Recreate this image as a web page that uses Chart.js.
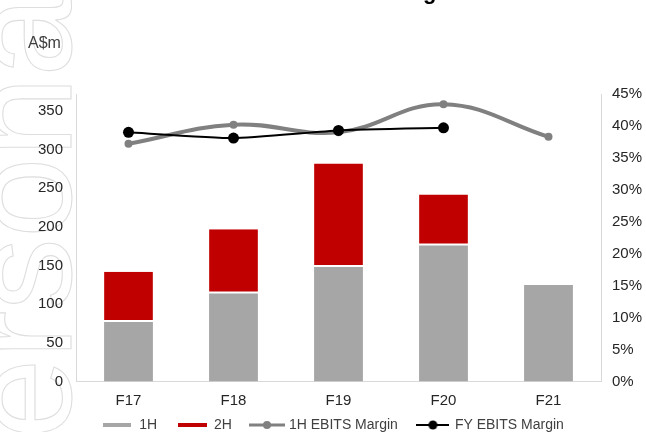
<!DOCTYPE html>
<html>
<head>
<meta charset="utf-8">
<style>
  html, body { margin: 0; padding: 0; background: #fff; }
  #wrap { width: 646px; height: 432px; }
</style>
<script src="https://cdn.jsdelivr.net/npm/chart.js@4/dist/chart.umd.min.js"></script>
</head>
<body>
<div id="wrap"><canvas id="myChart" width="646" height="432"></canvas></div>
<script>
const categories = ['F17', 'F18', 'F19', 'F20', 'F21'];
const firstHalf = [77, 114, 148, 176, 125];     // A$m
const secondHalf = [65, 83, 134, 66, null];      // A$m
const firstHalfMargin = [37.2, 40.2, 39.0, 43.4, 38.3]; // %
const fullYearMargin = [39.0, 38.1, 39.3, 39.7, null];  // %
const amountTicks = [0, 50, 100, 150, 200, 250, 300, 350];

const FONT = 'Arial, "Liberation Sans", sans-serif';
const TEXT = '#404040';
const AXIS = '#d9d9d9';

// little legend symbols: a line, optionally with a dot in the middle
function legendIcon(width, color, lineWidth, dot) {
    const c = document.createElement('canvas');
    c.width = width;
    c.height = 12;
    const g = c.getContext('2d');
    g.strokeStyle = color;
    g.lineWidth = lineWidth;
    g.beginPath();
    g.moveTo(0, 6);
    g.lineTo(width, 6);
    g.stroke();
    if (dot) {
        g.fillStyle = color;
        g.beginPath();
        g.arc(width / 2, 6, dot, 0, Math.PI * 2);
        g.fill();
    }
    return c;
}
const legendIcons = [
    legendIcon(28, '#a6a6a6', 4),
    legendIcon(29, '#c00000', 4),
    legendIcon(36, '#808080', 3, 4),
    legendIcon(33, '#000000', 2, 4.5)
];

const decorations = {
    id: 'decorations',
    beforeLayout(chart) {
        const legend = chart.legend;
        if (legend && !legend._patched) {
            const fit = legend.fit;
            legend.fit = function () {
                fit.call(this);
                this.height = 22;
            };
            legend._patched = true;
        }
    },
    afterLayout(chart) {
        // pull the legend up so it sits just under the category labels
        const legend = chart.legend;
        legend.top = 398;
        legend.bottom = 432;
        legend.height = 34;
    },
    beforeDraw(chart) {
        // faint outlined watermark down the left edge
        const ctx = chart.ctx;
        ctx.save();
        ctx.translate(71, 520);
        ctx.rotate(-Math.PI / 2);
        ctx.font = '145px ' + FONT;
        ctx.strokeStyle = '#dedede';
        ctx.lineWidth = 1.1;
        ctx.textBaseline = 'alphabetic';
        ctx.strokeText('personal use only', 0, 0);
        ctx.restore();
    },
    afterDraw(chart) {
        const ctx = chart.ctx;
        ctx.save();
        // title, almost entirely cut off at the top
        ctx.fillStyle = '#000';
        ctx.font = 'bold 22px ' + FONT;
        ctx.textAlign = 'right';
        ctx.textBaseline = 'alphabetic';
        ctx.fillText('EBITS and EBITS Margin', 456, -1);
        // unit label
        ctx.fillStyle = TEXT;
        ctx.font = '16px ' + FONT;
        ctx.textAlign = 'left';
        ctx.textBaseline = 'middle';
        ctx.fillText('A$m', 28, 44);
        ctx.restore();
    }
};

const ctx = document.getElementById('myChart').getContext('2d');
const myChart = new Chart(ctx, {
    type: 'bar',
    data: {
        labels: categories,
        datasets: [
            {
                label: '1H',
                data: firstHalf,
                backgroundColor: '#a6a6a6',
                borderWidth: 0,
                stack: 'half',
                yAxisID: 'y',
                order: 3,
                barPercentage: 0.465,
                categoryPercentage: 1
            },
            {
                label: '2H',
                data: secondHalf,
                backgroundColor: '#c00000',
                borderColor: '#ffffff',
                borderWidth: { top: 0, left: 0, right: 0, bottom: 2 },
                borderSkipped: false,
                stack: 'half',
                yAxisID: 'y',
                order: 3,
                barPercentage: 0.465,
                categoryPercentage: 1
            },
            {
                type: 'line',
                label: '1H EBITS Margin',
                data: firstHalfMargin,
                yAxisID: 'y1',
                borderColor: '#808080',
                backgroundColor: '#808080',
                borderWidth: 4,
                pointRadius: 4,
                pointBorderWidth: 0,
                tension: 0.4,
                fill: false,
                order: 2
            },
            {
                type: 'line',
                label: 'FY EBITS Margin',
                data: fullYearMargin,
                yAxisID: 'y1',
                borderColor: '#000000',
                backgroundColor: '#000000',
                borderWidth: 2,
                pointRadius: 5.5,
                pointBorderWidth: 0,
                tension: 0.15,
                fill: false,
                order: 1
            }
        ]
    },
    options: {
        responsive: false,
        animation: false,
        layout: { padding: { top: 94, left: 20, right: 0, bottom: 0 } },
        plugins: {
            tooltip: { enabled: false },
            legend: {
                position: 'bottom',
                labels: {
                    usePointStyle: true,
                    pointStyleWidth: 30,
                    padding: 20,
                    color: TEXT,
                    font: { family: FONT, size: 14 },
                    generateLabels: (chart) => Chart.defaults.plugins.legend.labels.generateLabels(chart)
                        .sort((a, b) => a.datasetIndex - b.datasetIndex)
                        .map((item) => Object.assign(item, { pointStyle: legendIcons[item.datasetIndex] }))
                }
            }
        },
        scales: {
            x: {
                stacked: true,
                grid: { display: false, drawTicks: false },
                border: { display: true, color: AXIS, width: 1 },
                ticks: { color: '#262626', padding: 10, font: { family: FONT, size: 15 } },
                afterFit: (scale) => { scale.height = 28.5; }
            },
            y: {
                position: 'left',
                stacked: true,
                min: 0,
                max: 372,
                grid: { display: false, drawTicks: false },
                border: { display: true, color: AXIS, width: 1 },
                ticks: { color: '#262626', padding: 13, font: { family: FONT, size: 15 } },
                afterBuildTicks: (scale) => { scale.ticks = amountTicks.map((value) => ({ value })); },
                afterFit: (scale) => { scale.width = 56; }
            },
            y1: {
                position: 'right',
                min: 0,
                max: 45,
                grid: { display: false, drawTicks: false },
                border: { display: true, color: AXIS, width: 1 },
                ticks: {
                    stepSize: 5,
                    color: '#262626',
                    padding: 11,
                    font: { family: FONT, size: 15 },
                    callback: (v) => v + '%'
                },
                afterFit: (scale) => { scale.width = 45; }
            }
        }
    },
    plugins: [decorations]
});
</script>
</body>
</html>
